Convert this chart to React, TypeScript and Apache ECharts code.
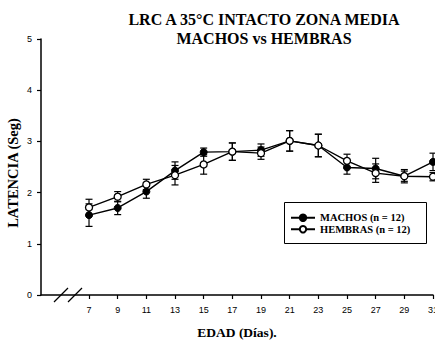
import React, { useEffect, useRef } from "react";
import * as echarts from "echarts";

const days = [7, 9, 11, 13, 15, 17, 19, 21, 23, 25, 27, 29, 31];
const machos = [1.56, 1.70, 2.02, 2.43, 2.79, 2.80, 2.83, 3.01, 2.92, 2.49, 2.47, 2.32, 2.60];
const machosErr = [0.22, 0.13, 0.13, 0.17, 0.08, 0.17, 0.12, 0.2, 0.22, 0.13, 0.2, 0.13, 0.17];
const hembras = [1.71, 1.92, 2.16, 2.34, 2.55, 2.80, 2.77, 3.01, 2.92, 2.62, 2.38, 2.32, 2.31];
const hembrasErr = [0.16, 0.1, 0.1, 0.19, 0.19, 0.17, 0.12, 0.2, 0.22, 0.13, 0.18, 0.1, 0.08];
const xTicks = [7, 9, 11, 13, 15, 17, 19, 21, 23, 25, 27, 29, 31];
const seriesNames = ["MACHOS (n = 12)", "HEMBRAS (n = 12)"];

const SERIF = "Liberation Serif";
const SANS = "Liberation Sans";

function errRender(params: any, api: any) {
  const x = api.value(0);
  const y = api.value(1);
  const e = api.value(2);
  const top = api.coord([x, y + e]);
  const bot = api.coord([x, y - e]);
  const hw = 3.5;
  const st = { stroke: "#000", lineWidth: 1.2 };
  return {
    type: "group",
    children: [
      { type: "line", shape: { x1: top[0], y1: top[1], x2: bot[0], y2: bot[1] }, style: st },
      { type: "line", shape: { x1: top[0] - hw, y1: top[1], x2: top[0] + hw, y2: top[1] }, style: st },
      { type: "line", shape: { x1: bot[0] - hw, y1: bot[1], x2: bot[0] + hw, y2: bot[1] }, style: st },
    ],
  };
}

export default function App() {
  const ref = useRef<HTMLDivElement>(null);
  useEffect(() => {
    if (!ref.current) return;
    const chart = echarts.init(ref.current, null, { renderer: "svg" });
    const axisLine = { show: true, lineStyle: { color: "#000", width: 1.5 } };
    chart.setOption({
      animation: false,
      backgroundColor: "#fff",
      title: {
        text: "LRC A 35°C INTACTO ZONA MEDIA\nMACHOS vs HEMBRAS",
        left: 259,
        top: 5,
        textAlign: "center",
        textStyle: { fontFamily: SERIF, fontWeight: "bold", fontSize: 16, lineHeight: 19, color: "#000" },
      },
      grid: { left: 41, right: 2, top: 39, bottom: 49, containLabel: false, outerBoundsMode: "none" },
      xAxis: {
        type: "value",
        min: 3.65,
        max: 31,
        axisLine,
        splitLine: { show: false },
        axisTick: { show: true, length: 4, customValues: xTicks, lineStyle: { color: "#000", width: 1.2 } },
        axisLabel: { customValues: xTicks, margin: 10, fontFamily: SANS, fontSize: 9, color: "#000" },
      },
      yAxis: {
        type: "value",
        min: 0,
        max: 5,
        interval: 1,
        axisLine,
        splitLine: { show: false },
        axisTick: { show: true, length: 4, lineStyle: { color: "#000", width: 1.2 } },
        axisLabel: { margin: 9, fontFamily: SANS, fontSize: 9, color: "#000" },
      },
      legend: {
        data: seriesNames,
        orient: "vertical",
        left: 290,
        top: 212,
        padding: 0,
        itemWidth: 24,
        itemHeight: 8,
        itemGap: 0,
        textStyle: { fontFamily: SERIF, fontWeight: "bold", fontSize: 10.5, lineHeight: 11.5, color: "#000" },
      },
      graphic: [
        {
          type: "rect",
          shape: { x: 284.5, y: 202.5, width: 142, height: 41 },
          style: { fill: "none", stroke: "#000", lineWidth: 1 },
          z: 1,
        },
        {
          type: "line",
          shape: { x1: 54, y1: 302, x2: 68, y2: 288 },
          style: { stroke: "#000", lineWidth: 1.3 },
        },
        {
          type: "line",
          shape: { x1: 68, y1: 302, x2: 82, y2: 288 },
          style: { stroke: "#000", lineWidth: 1.3 },
        },
        {
          type: "text",
          x: 13,
          y: 173,
          rotation: Math.PI / 2,
          style: {
            text: "LATENCIA (Seg)",
            fontFamily: SERIF,
            fontWeight: "bold",
            fontSize: 14.5,
            fill: "#000",
            align: "center",
            verticalAlign: "middle",
          },
        },
        {
          type: "text",
          x: 237,
          y: 332,
          style: {
            text: "EDAD (Días).",
            fontFamily: SERIF,
            fontWeight: "bold",
            fontSize: 13.5,
            fill: "#000",
            align: "center",
            verticalAlign: "middle",
          },
        },
      ],
      series: [
        {
          type: "custom",
          name: "errM",
          renderItem: errRender,
          data: days.map((d, i) => [d, machos[i], machosErr[i]]),
          encode: { x: 0, y: 1 },
          z: 1,
          silent: true,
        },
        {
          type: "custom",
          name: "errH",
          renderItem: errRender,
          data: days.map((d, i) => [d, hembras[i], hembrasErr[i]]),
          encode: { x: 0, y: 1 },
          z: 1,
          silent: true,
        },
        {
          type: "line",
          name: seriesNames[0],
          data: days.map((d, i) => [d, machos[i]]),
          symbol: "circle",
          symbolSize: 7,
          lineStyle: { color: "#000", width: 1.4 },
          itemStyle: { color: "#000", borderColor: "#000", borderWidth: 1 },
          z: 3,
        },
        {
          type: "line",
          name: seriesNames[1],
          data: days.map((d, i) => [d, hembras[i]]),
          symbol: "circle",
          symbolSize: 7,
          lineStyle: { color: "#000", width: 1.4 },
          itemStyle: { color: "#fff", borderColor: "#000", borderWidth: 1.3 },
          z: 4,
        },
      ],
    });
    return () => chart.dispose();
  }, []);
  return (
    <div
      ref={ref}
      style={{ position: "absolute", left: 0, top: 0, width: 435, height: 344 }}
    />
  );
}
